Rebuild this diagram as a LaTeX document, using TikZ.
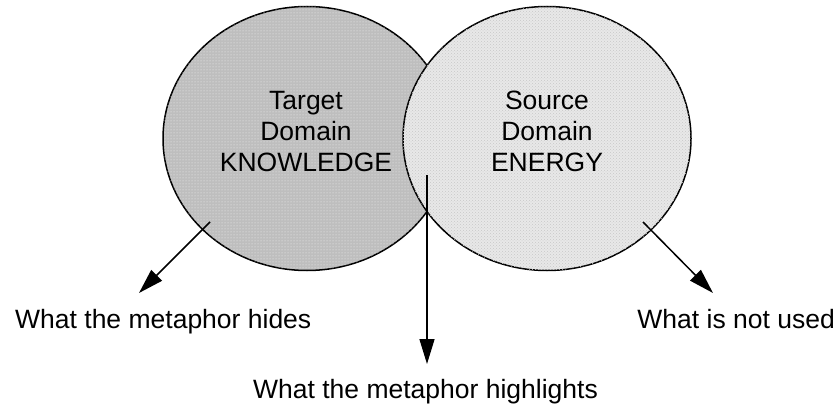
\documentclass[tikz,border=0pt]{standalone}
\usepackage{fontspec}
\setmainfont{Liberation Sans}
\usetikzlibrary{arrows.meta,patterns,shapes.geometric}
\definecolor{darkfill}{RGB}{190,190,190}
\definecolor{lightfill}{RGB}{232,232,232}
\definecolor{lightpat}{RGB}{200,200,200}
\tikzset{
  domainshape/.style={ellipse, draw=black, line width=1.5pt, minimum width=288pt, minimum height=264pt, inner sep=0pt},
  dtext/.style={align=center, inner sep=0pt, font=\fontsize{26.5}{31}\selectfont},
  lbl/.style={inner sep=0pt, font=\fontsize{26.5}{31}\selectfont},
  arr/.style={line width=1.5pt, -{Triangle[length=25pt,width=15pt]}}
}
\begin{document}
\begin{tikzpicture}[x=1pt,y=-1pt]
\useasboundingbox (0,0) rectangle (839,409);
\node[domainshape, fill=darkfill, postaction={pattern=dots, pattern color=white!85!darkfill}] (target) at (307,138.5) {};
\node[domainshape, fill=lightfill, postaction={pattern=crosshatch dots, pattern color=lightpat}] (source) at (547,138.5) {};
\node[dtext] (ttext) at (306,131.5) {Target\\Domain\\KNOWLEDGE};
\node[dtext] (stext) at (547,131.5) {Source\\Domain\\ENERGY};
\coordinate (hstart) at (210,222);
\coordinate (hend) at (139,293);
\coordinate (mstart) at (427,175);
\coordinate (mend) at (427,364);
\coordinate (nstart) at (643,222);
\coordinate (nend) at (713,293);
\node[lbl, anchor=base west] (hides) at (15,328) {What the metaphor hides};
\node[lbl, anchor=base] (highlights) at (425.5,398) {What the metaphor highlights};
\node[lbl, anchor=base east] (notused) at (835,328) {What is not used};
\draw[arr] (hstart) -- (hend);
\draw[arr] (mstart) -- (mend);
\draw[arr] (nstart) -- (nend);
\end{tikzpicture}
\end{document}
